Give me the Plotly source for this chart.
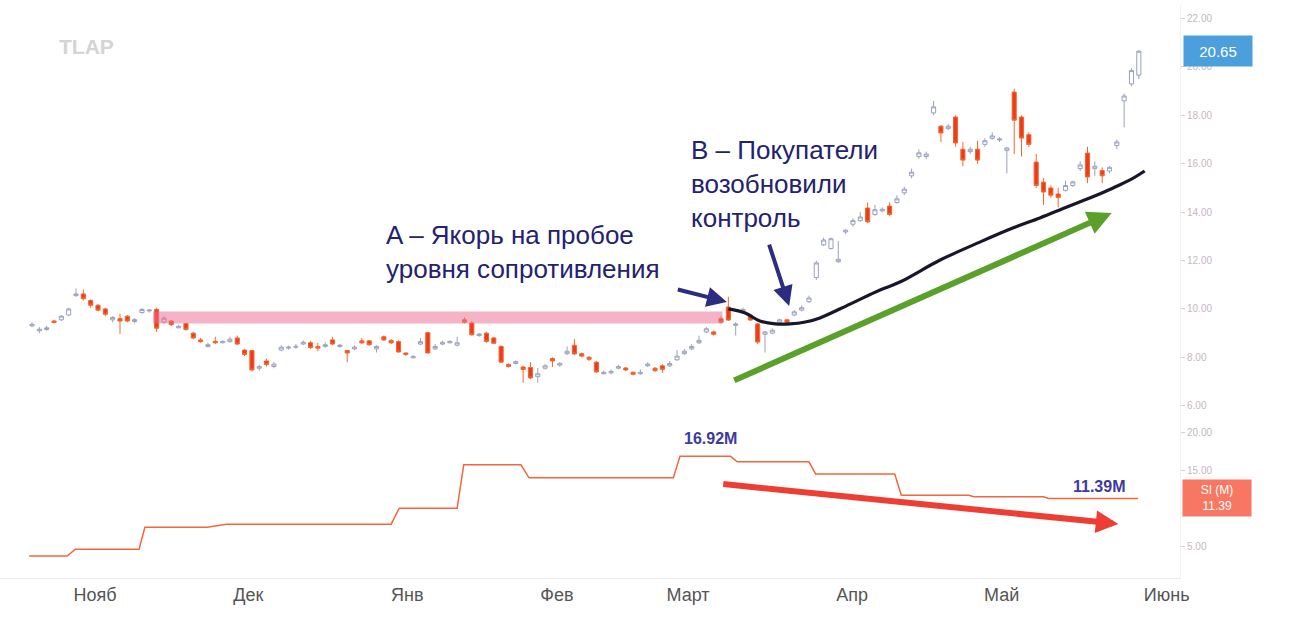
import plotly.graph_objects as go

# ---------------- data ----------------
opens = [9.30, 9.10, 9.15, 9.50, 9.55, 9.75, 10.55, 10.62, 10.35, 10.15,
         10.00, 9.55, 9.60, 9.70, 9.48, 9.85, 9.92, 9.98, 9.45, 9.50,
         9.22, 9.40, 9.00, 8.72, 8.45, 8.66, 8.60, 8.65, 8.80, 8.30,
         8.28, 7.55, 7.85, 7.62, 8.30, 8.38, 8.42, 8.55, 8.60, 8.45,
         8.45, 8.72, 8.45, 8.28, 8.35, 8.68, 8.68, 8.35, 8.85, 8.70,
         8.65, 8.18, 7.98, 8.55, 9.02, 8.35, 8.55, 8.60, 8.50, 9.55,
         9.42, 8.90, 9.00, 8.80, 8.45, 7.70, 7.75, 7.60, 7.58, 7.20,
         7.55, 7.95, 7.68, 8.15, 8.50, 8.15, 8.00, 7.80, 7.32, 7.36,
         7.55, 7.56, 7.38, 7.32, 7.65, 7.55, 7.65, 7.65, 7.90, 8.15,
         8.35, 8.60, 9.05, 9.05, 9.60, 10.08, 9.32, 9.88, 9.75, 9.38,
         8.95, 9.00, 9.45, 9.55, 9.75, 9.95, 10.30, 11.30, 12.65, 12.50,
         11.95, 13.18, 13.50, 13.65, 14.17, 13.90, 14.05, 14.25, 14.40, 14.80,
         15.50, 16.30, 16.30, 18.10, 17.55, 17.45, 17.93, 16.60, 16.50, 16.60,
         16.80, 17.05, 16.98, 16.55, 18.96, 17.93, 17.20, 16.07, 15.24, 15.00,
         14.75, 14.90, 15.10, 15.80, 16.44, 15.80, 15.72, 15.70, 16.75, 18.60,
         19.30, 19.66]
highs = [9.45, 9.25, 9.30, 9.55, 9.75, 10.05, 10.85, 10.80, 10.40, 10.20,
         10.05, 9.70, 9.80, 9.75, 9.62, 10.05, 10.00, 10.05, 9.70, 9.55,
         9.35, 9.42, 9.05, 8.80, 8.60, 8.85, 8.70, 8.85, 8.90, 8.35,
         8.30, 7.70, 7.95, 7.80, 8.50, 8.48, 8.55, 8.70, 8.68, 8.60,
         8.62, 8.85, 8.55, 8.30, 8.50, 8.80, 8.70, 8.50, 8.90, 8.75,
         8.70, 8.20, 8.08, 8.80, 9.05, 8.55, 8.68, 8.70, 8.85, 9.65,
         9.50, 9.00, 9.05, 8.85, 8.50, 7.75, 7.88, 7.65, 7.80, 7.56,
         7.72, 8.00, 7.80, 8.45, 8.75, 8.20, 8.05, 7.85, 7.45, 7.50,
         7.70, 7.60, 7.42, 7.50, 7.80, 7.60, 7.72, 7.85, 8.30, 8.35,
         8.55, 8.90, 9.25, 9.10, 9.70, 10.50, 9.45, 10.05, 9.80, 9.42,
         9.10, 9.20, 9.60, 9.60, 9.95, 10.15, 10.55, 12.00, 12.95, 12.95,
         12.80, 13.30, 13.75, 14.00, 14.40, 14.30, 14.20, 14.40, 14.70, 15.05,
         15.80, 16.60, 16.50, 18.60, 17.60, 17.65, 18.00, 16.90, 16.70, 16.95,
         17.05, 17.30, 17.10, 16.70, 19.10, 18.00, 17.30, 16.40, 15.40, 15.10,
         15.00, 15.30, 15.30, 16.10, 16.70, 16.10, 15.85, 15.90, 17.00, 18.90,
         19.95, 20.70]
lows = [9.25, 9.00, 9.10, 9.40, 9.50, 9.70, 10.50, 10.35, 10.05, 9.90,
        9.70, 9.45, 8.97, 9.45, 9.40, 9.80, 9.85, 9.05, 9.40, 9.30,
        9.20, 9.10, 8.75, 8.60, 8.40, 8.55, 8.58, 8.60, 8.50, 8.05,
        7.42, 7.45, 7.62, 7.55, 8.25, 8.32, 8.35, 8.50, 8.35, 8.25,
        8.40, 8.50, 8.40, 7.80, 8.30, 8.55, 8.48, 8.20, 8.68, 8.55,
        8.20, 8.05, 7.95, 8.50, 8.15, 8.30, 8.50, 8.58, 8.45, 9.40,
        8.90, 8.85, 8.60, 8.55, 7.78, 7.58, 7.70, 6.95, 7.10, 6.95,
        7.50, 7.60, 7.60, 8.10, 8.10, 8.00, 7.85, 7.35, 7.30, 7.30,
        7.50, 7.42, 7.25, 7.28, 7.60, 7.40, 7.35, 7.60, 7.85, 8.10,
        8.30, 8.55, 9.00, 8.90, 9.40, 9.50, 8.90, 9.80, 9.50, 8.55,
        8.20, 8.95, 9.40, 9.42, 9.70, 9.90, 10.25, 11.20, 12.60, 12.45,
        11.90, 13.10, 13.40, 13.60, 13.55, 13.85, 14.00, 13.85, 14.35, 14.70,
        15.40, 16.20, 16.20, 18.00, 16.90, 17.40, 16.70, 15.90, 16.40, 16.00,
        16.70, 17.00, 16.90, 15.60, 16.40, 16.30, 16.70, 15.00, 14.30, 14.60,
        14.20, 14.85, 15.05, 15.70, 15.20, 15.50, 15.20, 15.60, 16.60, 17.50,
        19.20, 19.50]
closes = [9.36, 9.16, 9.22, 9.44, 9.70, 10.00, 10.62, 10.42, 10.15, 9.95,
          9.78, 9.65, 9.50, 9.50, 9.56, 9.98, 9.95, 9.20, 9.62, 9.35,
          9.28, 9.15, 8.80, 8.65, 8.52, 8.60, 8.66, 8.75, 8.55, 8.12,
          7.48, 7.62, 7.70, 7.72, 8.42, 8.42, 8.45, 8.62, 8.40, 8.38,
          8.52, 8.55, 8.50, 8.18, 8.42, 8.60, 8.52, 8.45, 8.72, 8.60,
          8.22, 8.12, 8.04, 8.65, 8.18, 8.45, 8.62, 8.66, 8.60, 9.45,
          8.93, 8.96, 8.65, 8.58, 7.80, 7.62, 7.82, 7.50, 7.15, 7.32,
          7.65, 7.85, 7.75, 8.25, 8.14, 8.05, 7.92, 7.40, 7.38, 7.42,
          7.62, 7.48, 7.30, 7.38, 7.72, 7.45, 7.50, 7.75, 8.05, 8.25,
          8.45, 8.70, 9.18, 8.95, 9.45, 9.54, 9.38, 9.98, 9.54, 8.63,
          9.05, 9.12, 9.55, 9.45, 9.88, 10.05, 10.45, 11.90, 12.85, 12.90,
          12.05, 13.25, 13.65, 13.80, 13.60, 14.10, 14.12, 13.90, 14.55, 14.95,
          15.65, 16.45, 16.40, 18.35, 17.27, 17.55, 16.86, 16.15, 16.60, 16.15,
          16.95, 17.15, 17.02, 16.65, 17.80, 17.06, 16.80, 15.10, 14.83, 14.70,
          14.60, 15.10, 15.25, 15.95, 15.45, 15.90, 15.50, 15.85, 16.90, 18.80,
          19.85, 20.65]

# moving average (black curve), read at bar positions
ma_idx = [95.0, 97.3, 99.3, 101.4, 103.4, 105.5, 107.5, 111.6, 115.7, 118.4,
          123.9, 129.3, 133.8, 137.5, 141.2, 144.3, 147.5, 149.8, 151.8]
ma_vals = [10.00, 9.83, 9.50, 9.38, 9.38, 9.46, 9.63, 10.20, 10.78, 11.11,
           12.02, 12.76, 13.34, 13.76, 14.21, 14.58, 15.00, 15.33, 15.70]

# SI (M) stepped series
si_idx = [-0.4, 4.8, 5.9, 14.6, 15.4, 23.9, 26.5, 49.0, 50.1, 58.0, 58.9,
          66.7, 67.8, 87.5, 88.4, 95.3, 96.2, 106.0, 106.9, 117.7, 118.6,
          127.8, 128.5, 138.0, 138.7, 150.9]
si_vals = [3.8, 3.8, 4.7, 4.7, 7.6, 7.6, 8.0, 8.0, 10.1, 10.1, 15.8,
           15.8, 14.1, 14.1, 16.92, 16.92, 16.2, 16.2, 14.6, 14.6, 11.8,
           11.8, 11.6, 11.6, 11.39, 11.39]

month_pos = [8.6, 29.5, 51.2, 71.6, 89.5, 111.9, 132.3, 154.8]
month_labels = ["Нояб", "Дек", "Янв", "Фев", "Март", "Апр", "Май", "Июнь"]

price_ticks = [6, 8, 10, 12, 14, 16, 18, 20, 22]
si_ticks = [5, 15, 20]

last_price = 20.65
last_si = 11.39
si_peak = 16.92

zone_start, zone_end = 16.5, 94.2
zone_low, zone_high = 9.40, 9.89

n = len(closes)
xs = list(range(n))

FONT = "Liberation Sans, Arial, sans-serif"
W, H = 1290, 630
ML, MR, MT, MB = 0, 110, 5, 52
PW, PH = W - ML - MR, H - MT - MB


def px(xp):
    return (xp - ML) / PW


def py(yp):
    return (H - MB - yp) / PH


split = py(420)

fig = go.Figure()

fig.add_trace(go.Candlestick(
    x=xs, open=opens, high=highs, low=lows, close=closes,
    increasing=dict(line=dict(color="#9aa2bc", width=1), fillcolor="#ffffff"),
    decreasing=dict(line=dict(color="#f2672e", width=1), fillcolor="#f03a1c"),
    whiskerwidth=0, showlegend=False, hoverinfo="skip", xaxis="x", yaxis="y"))

fig.add_trace(go.Scatter(
    x=ma_idx, y=ma_vals, mode="lines", line=dict(color="#17172b", width=3.2, shape="spline"),
    showlegend=False, hoverinfo="skip", xaxis="x", yaxis="y"))

fig.add_trace(go.Scatter(
    x=si_idx, y=si_vals, mode="lines", line=dict(color="#f2673f", width=1.5),
    showlegend=False, hoverinfo="skip", xaxis="x", yaxis="y2"))

# resistance zone
fig.add_shape(type="rect", xref="x", yref="y", x0=zone_start, x1=zone_end,
              y0=zone_low, y1=zone_high, fillcolor="rgba(234,110,145,0.52)",
              line=dict(width=0), layer="above")

navy = "#24226e"
ann = []
# watermark
ann.append(dict(xref="paper", yref="paper", x=px(86), y=py(47), xanchor="center", yanchor="middle",
                text="<b>TLAP</b>", showarrow=False, font=dict(family=FONT, size=21, color="#d4d4d4")))
# text A
ann.append(dict(xref="paper", yref="paper", x=px(384), y=py(252), xanchor="left", yanchor="middle",
                text="A – Якорь на пробое<br>уровня сопротивления", align="left", showarrow=False,
                font=dict(family=FONT, size=26, color=navy)))
ann.append(dict(xref="paper", yref="paper", x=px(689), y=py(184), xanchor="left", yanchor="middle",
                text="B – Покупатели<br>возобновили<br>контроль", align="left", showarrow=False,
                font=dict(family=FONT, size=26, color=navy)))
# arrows
ann.append(dict(xref="x", yref="y", axref="x", ayref="y", x=94.8, y=10.29, ax=87.9, ay=10.82,
                text="", showarrow=True, arrowhead=2, arrowsize=1, arrowwidth=4, arrowcolor="#2c2c80"))
ann.append(dict(xref="x", yref="y", axref="x", ayref="y", x=103.3, y=10.12, ax=100.5, ay=12.72,
                text="", showarrow=True, arrowhead=2, arrowsize=1, arrowwidth=4, arrowcolor="#2c2c80"))
ann.append(dict(xref="x", yref="y", axref="x", ayref="y", x=147.3, y=13.96, ax=95.6, ay=7.02,
                text="", showarrow=True, arrowhead=2, arrowsize=0.8, arrowwidth=6, arrowcolor="#5aa02a"))
ann.append(dict(xref="x", yref="y2", axref="x", ayref="y2", x=148.2, y=8.03, ax=94.1, ay=13.29,
                text="", showarrow=True, arrowhead=2, arrowsize=0.75, arrowwidth=6, arrowcolor="#ee3e34"))
# SI labels
ann.append(dict(xref="x", yref="y2", x=92.5, y=si_peak, yshift=18, text="<b>%.2fM</b>" % si_peak,
                showarrow=False, font=dict(family=FONT, size=16, color="#3d3a9e")))
ann.append(dict(xref="x", yref="y2", x=145.6, y=last_si, yshift=12, text="<b>%.2fM</b>" % last_si,
                showarrow=False, font=dict(family=FONT, size=16, color="#3d3a9e")))
# right price labels
ann.append(dict(xref="paper", yref="y", x=px(1183), y=last_price, xanchor="left", yanchor="middle",
                text="%.2f" % last_price, showarrow=False, bgcolor="#4b9fdd", width=64, height=26,
                borderpad=2, font=dict(family=FONT, size=15, color="#ffffff")))
ann.append(dict(xref="paper", yref="y2", x=px(1182), y=last_si, xanchor="left", yanchor="middle",
                text="SI (M)<br>%.2f" % last_si, showarrow=False, bgcolor="#f77762", width=64, height=32,
                borderpad=2, font=dict(family=FONT, size=12, color="#ffffff")))

fig.update_layout(
    width=W, height=H, margin=dict(l=ML, r=MR, t=MT, b=MB),
    paper_bgcolor="#ffffff", plot_bgcolor="#ffffff", hovermode=False,
    font=dict(family=FONT), boxgap=0.2,
    annotations=ann,
    xaxis=dict(range=[-4.37, 156.62], tickvals=month_pos, ticktext=month_labels, anchor="y2",
               showgrid=False, zeroline=False, showline=True, linecolor="#ececec",
               ticks="", ticklen=0, tickfont=dict(size=18, color="#555555"),
               rangeslider=dict(visible=False), fixedrange=True),
    yaxis=dict(domain=[split, 1], range=[5.41, 22.56], side="right", anchor="x", tickvals=price_ticks,
               tickformat=".2f", showgrid=False, zeroline=False, showline=True, linecolor="#f2f2f2",
               ticks="outside", ticklen=4, tickcolor="#d0d0d0",
               tickfont=dict(size=10, color="#c4b8c4")),
    yaxis2=dict(domain=[0, split], range=[0.92, 21.7], side="right", anchor="x", tickvals=si_ticks,
                tickformat=".2f", showgrid=False, zeroline=False, showline=True, linecolor="#f2f2f2",
                ticks="outside", ticklen=4, tickcolor="#d0d0d0",
                tickfont=dict(size=10, color="#c4b8c4")),
)

fig.write_html("out.html")
